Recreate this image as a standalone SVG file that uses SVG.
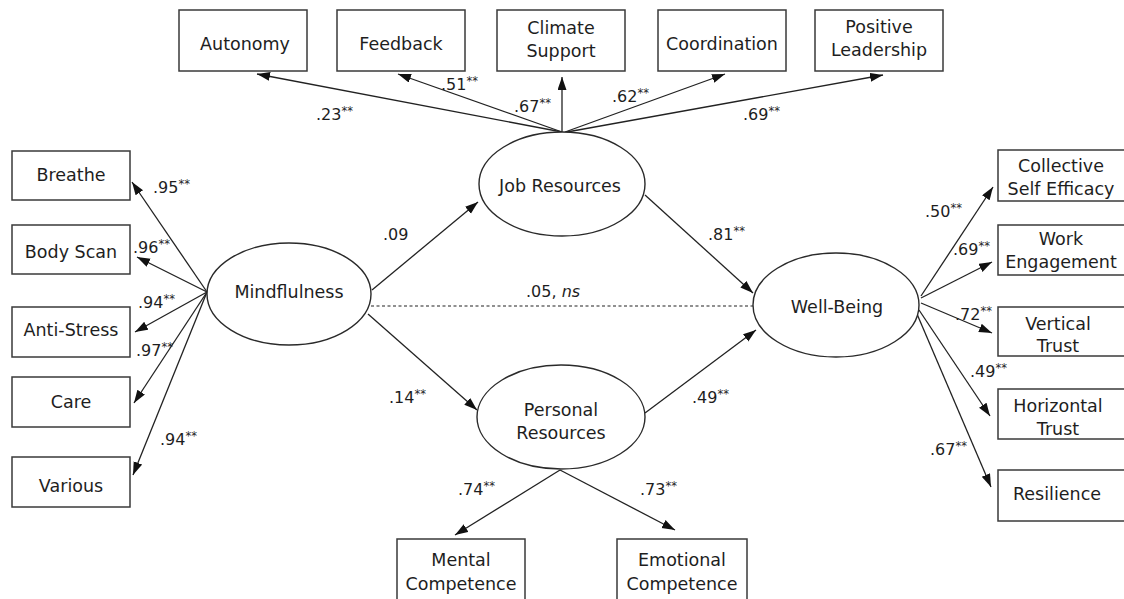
<svg xmlns="http://www.w3.org/2000/svg" width="1124" height="599" viewBox="0 0 1124 599">
<style>
.box{fill:#fff;stroke:#3a3a3a;stroke-width:1.5}
.ell{fill:#fff;stroke:#2a2a2a;stroke-width:1.4}
.t{font-family:"DejaVu Sans",sans-serif;font-size:17.5px;fill:#1e1e1e;text-anchor:middle}
.l{font-family:"DejaVu Sans",sans-serif;font-size:16px;fill:#1e1e1e}
.s{font-size:11.5px}
.c{stroke:#222;stroke-width:1.3;fill:none;marker-end:url(#ah)}
.d{stroke:#222;stroke-width:1.2;fill:none;stroke-dasharray:3 2.5}
</style>
<defs>
<marker id="ah" markerUnits="userSpaceOnUse" markerWidth="14" markerHeight="10" refX="13" refY="4.5" orient="auto">
<path d="M0,0 L13,4.5 L0,9 z" fill="#111"/>
</marker>
</defs>
<rect width="1124" height="599" fill="#fff"/>
<g id="connectors">
<line class="c" x1="562" y1="132" x2="257" y2="74"/>
<line class="c" x1="562" y1="132" x2="398" y2="74"/>
<line class="c" x1="562" y1="132" x2="562" y2="77"/>
<line class="c" x1="565" y1="132" x2="725" y2="74"/>
<line class="c" x1="567" y1="132" x2="883" y2="75"/>
<line class="c" x1="207" y1="292" x2="132" y2="182"/>
<line class="c" x1="207" y1="292" x2="137" y2="257"/>
<line class="c" x1="207" y1="292" x2="135" y2="332"/>
<line class="c" x1="207" y1="292" x2="134" y2="403"/>
<line class="c" x1="207" y1="292" x2="133" y2="475"/>
<line class="c" x1="372" y1="290" x2="478" y2="202"/>
<line class="c" x1="645" y1="195" x2="753" y2="293"/>
<line class="d" x1="371" y1="306" x2="753" y2="306"/>
<line class="c" x1="368" y1="314" x2="477" y2="410"/>
<line class="c" x1="645" y1="413" x2="756" y2="330"/>
<line class="c" x1="560" y1="470" x2="455" y2="535"/>
<line class="c" x1="560" y1="470" x2="675" y2="530"/>
<line class="c" x1="921" y1="296" x2="993" y2="187"/>
<line class="c" x1="921" y1="298" x2="992" y2="262"/>
<line class="c" x1="921" y1="303" x2="992" y2="333"/>
<line class="c" x1="919" y1="310" x2="990" y2="416"/>
<line class="c" x1="917" y1="314" x2="991" y2="487"/>
</g>
<g id="labels">
<text class="l" x="316" y="120">.23<tspan class="s" dy="-5">**</tspan></text>
<text class="l" x="441" y="90">.51<tspan class="s" dy="-5">**</tspan></text>
<text class="l" x="514" y="112">.67<tspan class="s" dy="-5">**</tspan></text>
<text class="l" x="612" y="102">.62<tspan class="s" dy="-5">**</tspan></text>
<text class="l" x="743" y="120">.69<tspan class="s" dy="-5">**</tspan></text>
<text class="l" x="153" y="193">.95<tspan class="s" dy="-5">**</tspan></text>
<text class="l" x="133" y="253">.96<tspan class="s" dy="-5">**</tspan></text>
<text class="l" x="138" y="308">.94<tspan class="s" dy="-5">**</tspan></text>
<text class="l" x="136" y="356">.97<tspan class="s" dy="-5">**</tspan></text>
<text class="l" x="160" y="445">.94<tspan class="s" dy="-5">**</tspan></text>
<text class="l" x="383" y="240">.09</text>
<text class="l" x="708" y="240">.81<tspan class="s" dy="-5">**</tspan></text>
<text class="l" x="526" y="297">.05, <tspan font-style="italic">ns</tspan></text>
<text class="l" x="389" y="403">.14<tspan class="s" dy="-5">**</tspan></text>
<text class="l" x="692" y="403">.49<tspan class="s" dy="-5">**</tspan></text>
<text class="l" x="458" y="495">.74<tspan class="s" dy="-5">**</tspan></text>
<text class="l" x="640" y="495">.73<tspan class="s" dy="-5">**</tspan></text>
<text class="l" x="925" y="217">.50<tspan class="s" dy="-5">**</tspan></text>
<text class="l" x="953" y="255">.69<tspan class="s" dy="-5">**</tspan></text>
<text class="l" x="955" y="320">.72<tspan class="s" dy="-5">**</tspan></text>
<text class="l" x="970" y="377">.49<tspan class="s" dy="-5">**</tspan></text>
<text class="l" x="930" y="455">.67<tspan class="s" dy="-5">**</tspan></text>
</g>
<g id="autonomy"><rect class="box" x="179" y="10" width="128" height="61"/><text class="t" x="245" y="50">Autonomy</text></g>
<g id="feedback"><rect class="box" x="337" y="10" width="128" height="61"/><text class="t" x="401" y="50">Feedback</text></g>
<g id="climate-support"><rect class="box" x="497" y="10" width="128" height="61"/><text class="t" x="561" y="34">Climate</text><text class="t" x="561" y="57">Support</text></g>
<g id="coordination"><rect class="box" x="658" y="10" width="128" height="61"/><text class="t" x="722" y="50">Coordination</text></g>
<g id="positive-leadership"><rect class="box" x="815" y="10" width="128" height="61"/><text class="t" x="879" y="33">Positive</text><text class="t" x="879" y="56">Leadership</text></g>
<g id="breathe"><rect class="box" x="12" y="151" width="118" height="49"/><text class="t" x="71" y="181">Breathe</text></g>
<g id="body-scan"><rect class="box" x="12" y="225" width="118" height="49"/><text class="t" x="71" y="258">Body Scan</text></g>
<g id="anti-stress"><rect class="box" x="12" y="307" width="118" height="50"/><text class="t" x="71" y="336">Anti-Stress</text></g>
<g id="care"><rect class="box" x="12" y="377" width="118" height="50"/><text class="t" x="71" y="408">Care</text></g>
<g id="various"><rect class="box" x="12" y="457" width="118" height="50"/><text class="t" x="71" y="492">Various</text></g>
<g id="mindfulness"><ellipse class="ell" cx="289" cy="294" rx="82" ry="51"/><text class="t" x="289" y="298">Mindflulness</text></g>
<g id="job-resources"><ellipse class="ell" cx="562" cy="184" rx="83" ry="52"/><text class="t" x="560" y="192">Job Resources</text></g>
<g id="personal-resources"><ellipse class="ell" cx="561" cy="417" rx="84" ry="52"/><text class="t" x="561" y="416">Personal</text><text class="t" x="561" y="439">Resources</text></g>
<g id="well-being"><ellipse class="ell" cx="836" cy="305" rx="83" ry="52"/><text class="t" x="837" y="313">Well-Being</text></g>
<g id="collective-self-efficacy"><rect class="box" x="998" y="150" width="132" height="51"/><text class="t" x="1061" y="172">Collective</text><text class="t" x="1061" y="195">Self Efficacy</text></g>
<g id="work-engagement"><rect class="box" x="998" y="225" width="132" height="50"/><text class="t" x="1061" y="245">Work</text><text class="t" x="1061" y="268">Engagement</text></g>
<g id="vertical-trust"><rect class="box" x="998" y="307" width="132" height="49"/><text class="t" x="1058" y="330">Vertical</text><text class="t" x="1058" y="352">Trust</text></g>
<g id="horizontal-trust"><rect class="box" x="998" y="389" width="132" height="50"/><text class="t" x="1058" y="412">Horizontal</text><text class="t" x="1058" y="435">Trust</text></g>
<g id="resilience"><rect class="box" x="998" y="470" width="132" height="51"/><text class="t" x="1057" y="500">Resilience</text></g>
<g id="mental-competence"><rect class="box" x="397" y="539" width="128" height="70"/><text class="t" x="461" y="566">Mental</text><text class="t" x="461" y="590">Competence</text></g>
<g id="emotional-competence"><rect class="box" x="617" y="539" width="130" height="70"/><text class="t" x="682" y="566">Emotional</text><text class="t" x="682" y="590">Competence</text></g>
</svg>
